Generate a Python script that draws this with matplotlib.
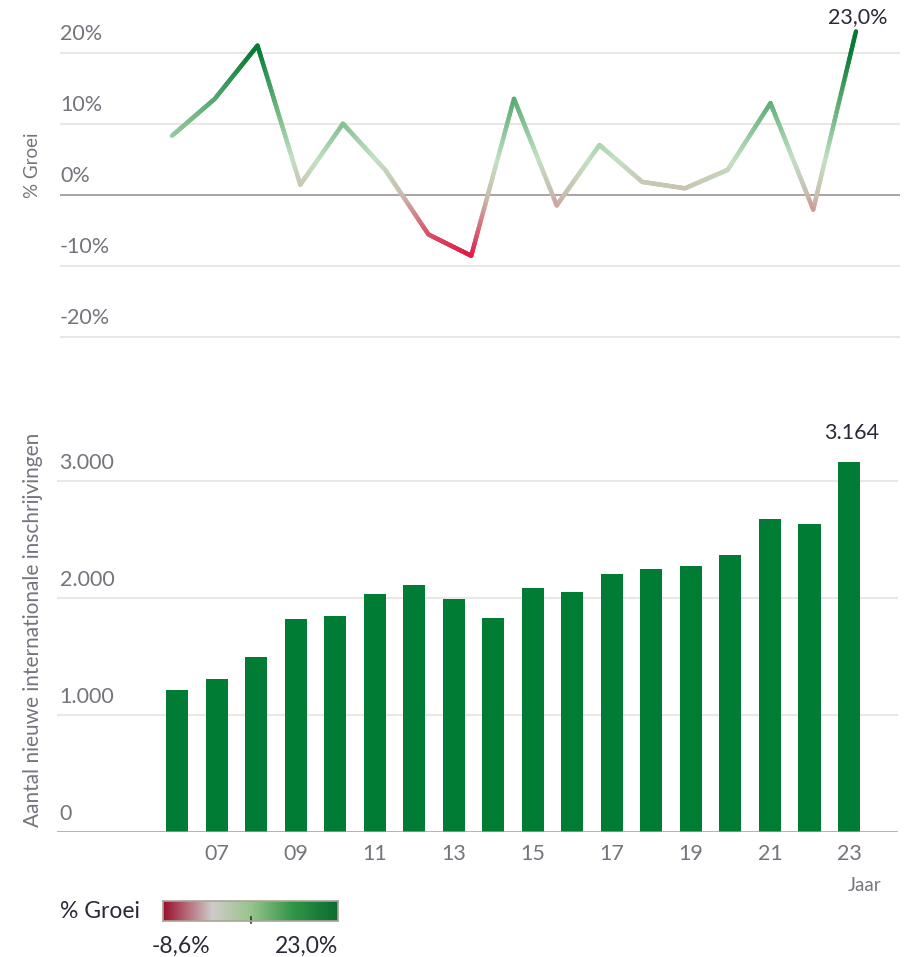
import numpy as np
import matplotlib.pyplot as plt
import matplotlib.transforms as mtransforms
from matplotlib.collections import LineCollection
from matplotlib.colors import LinearSegmentedColormap, Normalize

plt.rcParams['font.family'] = ['Lato', 'DejaVu Sans']

# data
jaren = np.arange(2006, 2024)
inschrijvingen = [1213, 1307, 1495, 1821, 1847, 2035, 2112, 1992, 1830,
                  2087, 2053, 2206, 2249, 2275, 2369, 2677, 2634, 3164]
groei_jaren = np.arange(2007, 2024)
groei = [8.3, 13.5, 21.0, 1.4, 10.0, 3.4, -5.6, -8.6, 13.5,
         -1.5, 7.0, 1.8, 0.9, 3.5, 12.9, -2.1, 23.0]
x_ticks = [2007, 2009, 2011, 2013, 2015, 2017, 2019, 2021, 2023]
x_labels = ['07', '09', '11', '13', '15', '17', '19', '21', '23']
groei_ticks = [20, 10, 0, -10, -20]
groei_labels = ['20%', '10%', '0%', '-10%', '-20%']
aantal_ticks = [3000, 2000, 1000, 0]
aantal_labels = ['3.000', '2.000', '1.000', '0']

GRAY_TXT = '#77737d'
DARK_TXT = '#2b2838'
GRID = '#ede7e4'
BAR = '#007c34'
FS = 15.5

W, H = 906, 957


def rect(x0, y0, x1, y1):
    return [x0 / W, 1 - y1 / H, (x1 - x0) / W, (y1 - y0) / H]


fig = plt.figure(figsize=(W / 100, H / 100), dpi=100)

# ---- top: growth line with vertical colour gradient
ax1 = fig.add_axes(rect(60, 10.1, 900, 350.9))
ax1.set_xlim(2004.38, 2024.03)
ax1.set_ylim(-22, 26)
for v in groei_ticks:
    if v == 0:
        ax1.axhline(v, color='#9c9393', lw=1.2, zorder=1)
    else:
        ax1.axhline(v, color=GRID, lw=1.5, zorder=1)
off = mtransforms.offset_copy(ax1.get_yaxis_transform(), fig=fig, x=0, y=9, units='dots')
for v, lab in zip(groei_ticks, groei_labels):
    ax1.text(0, v, lab, transform=off, ha='left', va='bottom', fontsize=FS, color=GRAY_TXT)

line_cmap = LinearSegmentedColormap.from_list('lijn', [
    (0.0, '#e3103f'), (6 / 32, '#d3868c'), (9 / 32, '#c8bfae'),
    (14 / 32, '#c4e0c4'), (21 / 32, '#69b47f'), (29 / 32, '#0a7d38'), (1.0, '#007a33')])
norm = Normalize(-9, 23)
segs, vals = [], []
for i in range(len(groei) - 1):
    xs = np.linspace(groei_jaren[i], groei_jaren[i + 1], 41)
    ys = np.linspace(groei[i], groei[i + 1], 41)
    for j in range(40):
        segs.append([(xs[j], ys[j]), (xs[j + 1], ys[j + 1])])
        vals.append((ys[j] + ys[j + 1]) / 2)
lc = LineCollection(segs, cmap=line_cmap, norm=norm, linewidths=3.2, capstyle='round', zorder=3)
lc.set_array(np.array(vals))
ax1.add_collection(lc)
ax1.annotate('23,0%', (groei_jaren[-1], groei[-1]), xytext=(1, 3), textcoords='offset points',
             ha='center', va='bottom', fontsize=FS, color=DARK_TXT)
ax1.axis('off')
fig.text(33 / W, 1 - 165 / H, '% Groei', rotation=90, ha='center', va='center',
         fontsize=13.5, color=GRAY_TXT)

# ---- bottom: bar chart
ax2 = fig.add_axes(rect(57, 434.6, 898, 831.7))
ax2.set_xlim(2002.96, 2024.24)
ax2.set_ylim(0, 3400)
for v in aantal_ticks[:-1]:
    ax2.axhline(v, color=GRID, lw=1.5, zorder=1)
ax2.bar(jaren, inschrijvingen, width=0.56, color=BAR, zorder=2)
ax2.axhline(0, color='#a29c9c', lw=1.8, zorder=3)
off2 = mtransforms.offset_copy(ax2.get_yaxis_transform(), fig=fig, x=0, y=8, units='dots')
for v, lab in zip(aantal_ticks, aantal_labels):
    ax2.text(0.003, v, lab, transform=off2, ha='left', va='bottom', fontsize=FS, color=GRAY_TXT)
ax2.annotate('3.164', (jaren[-1], inschrijvingen[-1]), xytext=(2, 14), textcoords='offset points',
             ha='center', va='bottom', fontsize=FS, color=DARK_TXT)
for spine in ax2.spines.values():
    spine.set_visible(False)
ax2.set_yticks([])
ax2.set_xticks(x_ticks)
ax2.set_xticklabels(x_labels, fontsize=FS, color=GRAY_TXT)
ax2.tick_params(axis='x', length=0, pad=9)
ax2.text(2023.4, -0.135, 'Jaar', transform=ax2.get_xaxis_transform(), ha='center', va='center',
         fontsize=13.5, color=GRAY_TXT)
fig.text(33 / W, 1 - 630 / H, 'Aantal nieuwe internationale inschrijvingen', rotation=90,
         ha='center', va='center', fontsize=15, color=GRAY_TXT)

# ---- legend colour bar
legend_cmap = LinearSegmentedColormap.from_list('legenda', [
    (0.0, '#9a0f2c'), (0.28, '#cfcccb'), (0.5, '#98c48c'), (0.75, '#2f9546'), (1.0, '#0c6a30')])
axl = fig.add_axes(rect(163, 901, 338, 921))
axl.imshow(np.linspace(0, 1, 256)[None, :], cmap=legend_cmap, aspect='auto', extent=[0, 1, 0, 1])
axl.set_xticks([])
axl.set_yticks([])
for spine in axl.spines.values():
    spine.set_color('#aaa498')
    spine.set_linewidth(1.2)
axl.plot([0.5, 0.5], [-0.12, 0.2], color='#333333', lw=1.2, transform=axl.transAxes, clip_on=False)
fig.text(60 / W, 1 - 911 / H, '% Groei', ha='left', va='center', fontsize=16.5, color=DARK_TXT)
fig.text(181 / W, 1 - 946 / H, '-8,6%', ha='center', va='center', fontsize=16.5, color=DARK_TXT)
fig.text(306 / W, 1 - 946 / H, '23,0%', ha='center', va='center', fontsize=16.5, color=DARK_TXT)

fig.savefig('out.png', dpi=100)
